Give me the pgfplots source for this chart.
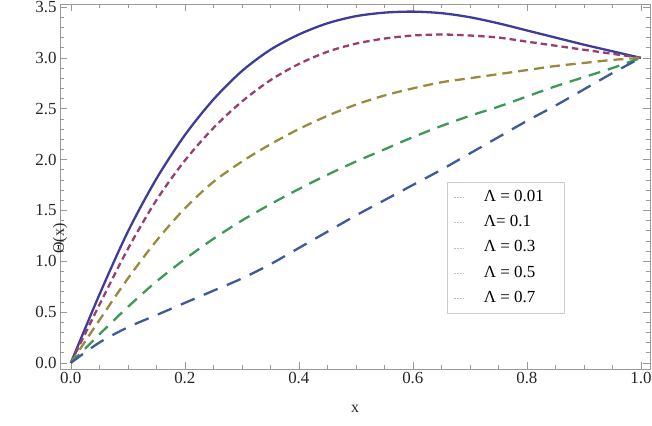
\documentclass[border=0pt]{standalone}
\usepackage{fontspec}
\setmainfont{Liberation Serif}
\usepackage{pgfplots}
\usepackage{pgfplotstable}
\pgfplotsset{compat=1.18}
\usetikzlibrary{calc}
\definecolor{c1}{rgb}{0.24,0.24,0.6}
\definecolor{c2}{rgb}{0.6,0.24,0.4428}
\definecolor{c3}{rgb}{0.6,0.547,0.24}
\definecolor{c4}{rgb}{0.24,0.6,0.337}
\definecolor{c5}{rgb}{0.24,0.353,0.6}

\pgfplotstableread{
x y
0.00 0.00
0.05 0.67
0.10 1.29
0.15 1.81
0.20 2.24
0.25 2.59
0.30 2.87
0.35 3.08
0.40 3.23
0.45 3.34
0.50 3.41
0.55 3.445
0.60 3.455
0.65 3.44
0.70 3.40
0.75 3.34
0.80 3.27
0.85 3.20
0.90 3.13
0.95 3.065
1.00 3.00
}\LamA
\pgfplotstableread{
x y
0.00 0.00
0.05 0.57
0.10 1.12
0.15 1.60
0.20 1.99
0.25 2.31
0.30 2.57
0.35 2.78
0.40 2.94
0.45 3.06
0.50 3.14
0.55 3.19
0.60 3.22
0.65 3.23
0.70 3.22
0.75 3.20
0.80 3.16
0.85 3.12
0.90 3.08
0.95 3.04
1.00 3.00
}\LamB
\pgfplotstableread{
x y
0.00 0.00
0.05 0.42
0.10 0.83
0.15 1.20
0.20 1.52
0.25 1.78
0.30 1.98
0.35 2.15
0.40 2.30
0.45 2.43
0.50 2.54
0.55 2.63
0.60 2.70
0.65 2.76
0.70 2.80
0.75 2.84
0.80 2.88
0.85 2.92
0.90 2.95
0.95 2.98
1.00 3.00
}\LamC
\pgfplotstableread{
x y
0.00 0.00
0.05 0.28
0.10 0.55
0.15 0.80
0.20 1.02
0.25 1.22
0.30 1.40
0.35 1.56
0.40 1.71
0.45 1.85
0.50 1.98
0.55 2.10
0.60 2.22
0.65 2.33
0.70 2.43
0.75 2.52
0.80 2.62
0.85 2.72
0.90 2.81
0.95 2.90
1.00 3.00
}\LamD
\pgfplotstableread{
x y
0.00 0.00
0.05 0.20
0.10 0.35
0.15 0.47
0.20 0.59
0.25 0.71
0.30 0.83
0.35 0.97
0.40 1.13
0.45 1.29
0.50 1.45
0.55 1.60
0.60 1.75
0.65 1.90
0.70 2.06
0.75 2.22
0.80 2.38
0.85 2.53
0.90 2.69
0.95 2.85
1.00 3.00
}\LamE

\begin{document}
\begin{tikzpicture}
\begin{axis}[
  scale only axis, width=590bp, height=365bp,
  xmin=-0.019, xmax=1.016, ymin=-0.06, ymax=3.53,
  xtick={0,0.2,0.4,0.6,0.8,1.0},
  xticklabels={0.0,0.2,0.4,0.6,0.8,1.0},
  ytick={0,0.5,1,1.5,2,2.5,3,3.5},
  yticklabels={0.0,0.5,1.0,1.5,2.0,2.5,3.0,3.5},
  minor x tick num=3, minor y tick num=4,
  tick align=inside, xtick pos=both, ytick pos=both,
  major tick length=7bp, minor tick length=4bp,
  axis line style={black!40, line width=0.6bp},
  every tick/.style={black!40, line width=0.6bp},
  tick label style={font=\fontsize{17}{20}\selectfont, text=black!85},
  xticklabel pos=lower, yticklabel pos=left,
  /pgf/number format/assume math mode=true,
  xlabel={x}, ylabel={Θ(x)},
  label style={font=\fontsize{16}{19}\selectfont, text=black!85},
  xlabel style={at={(axis description cs:0.5,0)}, anchor=center, yshift=-40bp},
  ylabel style={at={(axis description cs:0,0.5)}, anchor=center, xshift=-52bp},
  legend cell align=left,
  legend image code/.code={\draw[black!25, densely dotted, line width=0.5bp] (0bp,0bp) -- (10bp,0bp);},
  legend style={at={(axis description cs:0.656,0.512)}, anchor=north west,
    draw=black!20, line width=0.5bp, font=\fontsize{17}{20}\selectfont,
    inner xsep=6bp, inner ysep=7.5bp, row sep=10.3bp, column sep=20bp,
    nodes={inner sep=0pt, text height=11.5bp, text depth=3.5bp}},
]
\addplot[c1, line width=2.3bp, smooth] table {\LamA};
\addplot[c2, line width=2.3bp, smooth, dash pattern=on 6.5bp off 4bp] table {\LamB};
\addplot[c3, line width=2.3bp, smooth, dash pattern=on 10bp off 6bp] table {\LamC};
\addplot[c4, line width=2.3bp, smooth, dash pattern=on 12bp off 8bp] table {\LamD};
\addplot[c5, line width=2.3bp, smooth, dash pattern=on 15bp off 10bp] table {\LamE};
\addlegendentry{\makebox[74bp][l]{Λ = 0.01}}
\addlegendentry{Λ= 0.1}
\addlegendentry{Λ = 0.3}
\addlegendentry{Λ = 0.5}
\addlegendentry{Λ = 0.7}
\path (rel axis cs:0,0) coordinate (A);
\path (rel axis cs:1,1) coordinate (B);
\end{axis}
\pgfresetboundingbox
\path[use as bounding box] ($(A)+(-60bp,-57bp)$) rectangle ($(B)+(2bp,4bp)$);
\end{tikzpicture}
\end{document}
